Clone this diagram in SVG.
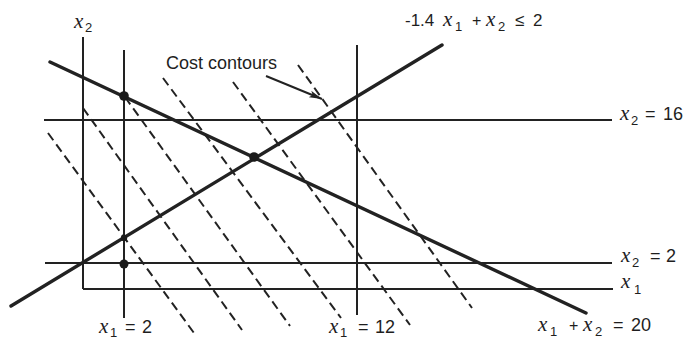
<svg xmlns="http://www.w3.org/2000/svg" width="688" height="339" viewBox="0 0 688 339">
<defs>
<style>
.thin{stroke:#222;stroke-width:2;fill:none}
.thick{stroke:#222;stroke-width:3.4;fill:none;stroke-linecap:round}
.dash{stroke:#222;stroke-width:2;fill:none;stroke-dasharray:9 5}
.dot{fill:#1a1a1a}
text{fill:#1e1e1e;font-family:"Liberation Sans",Arial,sans-serif;font-size:18px}
.v{font-family:"Liberation Serif","Times New Roman",serif;font-style:italic;font-size:21px}
.s{font-size:13px}
</style>
<marker id="ah" markerWidth="14" markerHeight="8" refX="13" refY="4" orient="auto" markerUnits="userSpaceOnUse">
<path d="M0,0.5 L13,4 L0,7.5 L3,4 Z" fill="#222"/>
</marker>
</defs>
<rect width="688" height="339" fill="#fff"/>

<g id="axes">
<line class="thin" x1="83" y1="37" x2="83" y2="289"/>
<line class="thin" x1="83" y1="289" x2="613" y2="289"/>
</g>

<g id="constraints">
<line class="thin" x1="124" y1="50" x2="124" y2="318"/>
<line class="thin" x1="357" y1="45" x2="357" y2="315"/>
<line class="thin" x1="44" y1="120" x2="612" y2="120"/>
<line class="thin" x1="45" y1="263" x2="612" y2="263"/>
<line class="thick" x1="50" y1="62" x2="586" y2="313"/>
<line class="thick" x1="11" y1="306" x2="442" y2="45"/>
</g>

<g id="contours">
<line class="dash" x1="48" y1="133" x2="194" y2="333"/>
<line class="dash" x1="83" y1="108" x2="242" y2="330"/>
<line class="dash" x1="125" y1="97" x2="290" y2="326"/>
<line class="dash" x1="163" y1="78" x2="341" y2="318"/>
<line class="dash" x1="233" y1="82" x2="410" y2="325"/>
<line class="dash" x1="298" y1="65" x2="472" y2="308"/>
</g>

<g id="vertices">
<circle class="dot" cx="124" cy="96" r="4.8"/>
<circle class="dot" cx="254" cy="157" r="4.8"/>
<circle class="dot" cx="124" cy="264" r="4.5"/>
<circle class="dot" cx="124" cy="238" r="3.2"/>
</g>

<g id="connectors">
<line class="thin" x1="266" y1="76" x2="322" y2="99" marker-end="url(#ah)" stroke-width="1.7"/>
</g>

<g id="labels">
<text x="166" y="69" font-size="19">Cost contours</text>
<text><tspan class="v" x="74" y="28">x</tspan><tspan class="s" x="85" y="32">2</tspan></text>
<text><tspan x="405" y="26" font-size="17">-1.4</tspan><tspan class="v" x="443" y="26">x</tspan><tspan class="s" x="455" y="31">1</tspan><tspan x="472" y="26" font-size="16">+</tspan><tspan class="v" x="486" y="26">x</tspan><tspan class="s" x="498" y="31">2</tspan><tspan x="515" y="26" font-size="17">≤</tspan><tspan x="533" y="26" font-size="17">2</tspan></text>
<text><tspan class="v" x="620" y="120">x</tspan><tspan class="s" x="631" y="125">2</tspan><tspan x="645" y="120">=</tspan><tspan x="663" y="120">16</tspan></text>
<text><tspan class="v" x="621" y="262">x</tspan><tspan class="s" x="632" y="267">2</tspan><tspan x="650" y="262">=</tspan><tspan x="666" y="262">2</tspan></text>
<text><tspan class="v" x="621" y="288">x</tspan><tspan class="s" x="634" y="294">1</tspan></text>
<text><tspan class="v" x="538" y="331">x</tspan><tspan class="s" x="550" y="336">1</tspan><tspan x="569" y="331" font-size="16">+</tspan><tspan class="v" x="583" y="331">x</tspan><tspan class="s" x="595" y="336">2</tspan><tspan x="613" y="331">=</tspan><tspan x="631" y="331">20</tspan></text>
<text><tspan class="v" x="99" y="333">x</tspan><tspan class="s" x="110" y="337">1</tspan><tspan x="125" y="333">=</tspan><tspan x="142" y="333">2</tspan></text>
<text><tspan class="v" x="329" y="333">x</tspan><tspan class="s" x="340" y="337">1</tspan><tspan x="358" y="333">=</tspan><tspan x="375" y="333">12</tspan></text>
</g>
</svg>
